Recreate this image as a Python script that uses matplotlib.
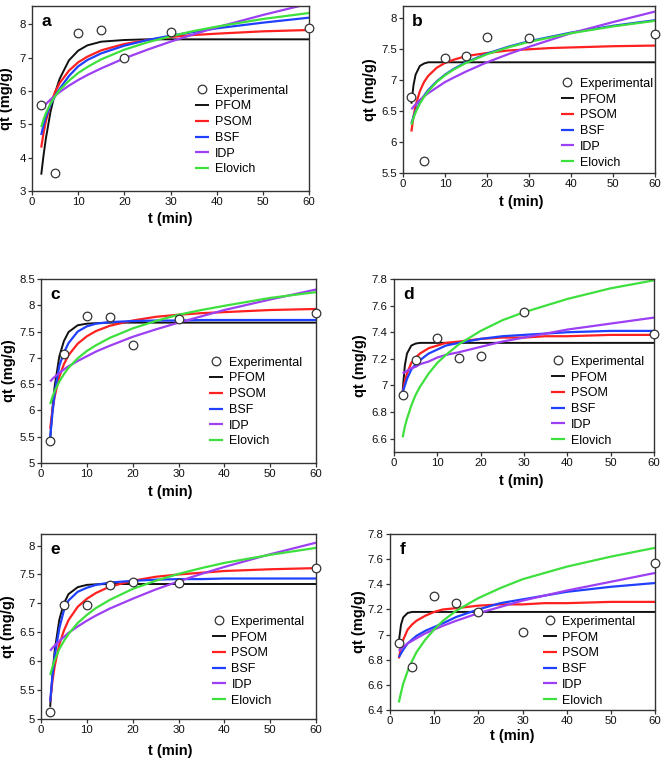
import matplotlib
matplotlib.use("Agg")
import matplotlib.pyplot as plt
from matplotlib.ticker import FuncFormatter

plt.rcParams['font.family'] = ['Liberation Sans', 'DejaVu Sans']

# ---------------- data ----------------
t_exp = [2, 5, 10, 15, 20, 30, 60]
t_fit = [2, 2.5, 3, 4, 5, 6, 8, 10, 12, 15, 20, 25, 30, 35, 40, 50, 60]
model_names = ["PFOM", "PSOM", "BSF", "IDP", "Elovich"]

# panel a
a_exp = [5.57, 3.53, 7.75, 7.83, 6.98, 7.78, 7.88]
a_pfom = [3.49, 4.07, 4.57, 5.37, 5.95, 6.37, 6.92, 7.21, 7.37, 7.48, 7.53, 7.55, 7.55, 7.55, 7.55, 7.55, 7.55]
a_psom = [4.30, 4.74, 5.09, 5.61, 5.97, 6.24, 6.61, 6.86, 7.03, 7.22, 7.41, 7.53, 7.62, 7.68, 7.72, 7.79, 7.83]
a_bsf = [4.68, 4.98, 5.22, 5.58, 5.85, 6.07, 6.45, 6.74, 6.93, 7.13, 7.36, 7.53, 7.66, 7.77, 7.88, 8.05, 8.20]
a_idp = [5.45, 5.53, 5.61, 5.74, 5.86, 5.97, 6.16, 6.33, 6.48, 6.68, 6.98, 7.24, 7.48, 7.70, 7.91, 8.28, 8.62]
a_elov = [4.92, 5.14, 5.33, 5.62, 5.84, 6.03, 6.31, 6.54, 6.72, 6.95, 7.24, 7.46, 7.64, 7.80, 7.93, 8.16, 8.34]

# panel b
b_exp = [6.73, 5.69, 7.355, 7.39, 7.70, 7.69, 7.75]
b_pfom = [6.62, 6.92, 7.09, 7.23, 7.27, 7.29, 7.29, 7.29, 7.29, 7.29, 7.29, 7.29, 7.29, 7.29, 7.29, 7.29, 7.29]
b_psom = [6.17, 6.41, 6.59, 6.82, 6.97, 7.07, 7.20, 7.28, 7.33, 7.39, 7.44, 7.48, 7.50, 7.52, 7.53, 7.55, 7.56]
b_bsf = [6.30, 6.41, 6.50, 6.64, 6.75, 6.84, 6.98, 7.09, 7.18, 7.29, 7.43, 7.54, 7.63, 7.70, 7.77, 7.88, 7.97]
b_idp = [6.53, 6.57, 6.61, 6.68, 6.74, 6.79, 6.88, 6.97, 7.04, 7.14, 7.29, 7.42, 7.54, 7.65, 7.76, 7.94, 8.11]
b_elov = [6.28, 6.39, 6.48, 6.62, 6.73, 6.82, 6.97, 7.08, 7.17, 7.28, 7.42, 7.53, 7.62, 7.69, 7.76, 7.87, 7.96]

# panel c
c_exp = [5.41, 7.08, 7.80, 7.78, 7.24, 7.74, 7.85]
c_pfom = [5.45, 6.04, 6.47, 7.03, 7.32, 7.49, 7.62, 7.65, 7.66, 7.67, 7.67, 7.67, 7.67, 7.67, 7.67, 7.67, 7.67]
c_psom = [5.65, 6.01, 6.27, 6.64, 6.88, 7.05, 7.27, 7.41, 7.51, 7.61, 7.71, 7.78, 7.82, 7.85, 7.87, 7.91, 7.93]
c_bsf = [5.48, 5.95, 6.35, 6.85, 7.10, 7.28, 7.50, 7.60, 7.65, 7.68, 7.70, 7.71, 7.71, 7.72, 7.72, 7.72, 7.72]
c_idp = [6.55, 6.60, 6.64, 6.71, 6.78, 6.84, 6.94, 7.03, 7.12, 7.23, 7.40, 7.54, 7.67, 7.79, 7.91, 8.11, 8.30]
c_elov = [6.12, 6.26, 6.37, 6.55, 6.69, 6.81, 6.99, 7.13, 7.24, 7.38, 7.56, 7.70, 7.82, 7.91, 7.99, 8.14, 8.25]

# panel d
d_exp = [6.93, 7.19, 7.36, 7.21, 7.22, 7.55, 7.385]
d_pfom = [6.96, 7.15, 7.24, 7.30, 7.315, 7.32, 7.32, 7.32, 7.32, 7.32, 7.32, 7.32, 7.32, 7.32, 7.32, 7.32, 7.32]
d_psom = [6.95, 7.03, 7.09, 7.17, 7.21, 7.24, 7.28, 7.30, 7.32, 7.33, 7.35, 7.36, 7.36, 7.37, 7.37, 7.38, 7.38]
d_bsf = [6.95, 7.00, 7.05, 7.12, 7.16, 7.19, 7.24, 7.27, 7.30, 7.32, 7.35, 7.37, 7.38, 7.39, 7.40, 7.41, 7.41]
d_idp = [7.09, 7.10, 7.11, 7.13, 7.14, 7.16, 7.18, 7.21, 7.23, 7.25, 7.29, 7.33, 7.36, 7.39, 7.42, 7.465, 7.51]
d_elov = [6.61, 6.69, 6.75, 6.85, 6.93, 6.99, 7.09, 7.17, 7.23, 7.31, 7.41, 7.49, 7.55, 7.60, 7.65, 7.73, 7.79]

# panel e
e_exp = [5.12, 6.965, 6.97, 7.31, 7.37, 7.35, 7.61]
e_pfom = [5.21, 5.78, 6.19, 6.72, 7.00, 7.16, 7.28, 7.32, 7.33, 7.335, 7.335, 7.335, 7.335, 7.335, 7.335, 7.335, 7.335]
e_psom = [5.30, 5.66, 5.92, 6.29, 6.53, 6.71, 6.94, 7.08, 7.18, 7.29, 7.39, 7.46, 7.50, 7.53, 7.56, 7.59, 7.61]
e_bsf = [5.30, 5.75, 6.10, 6.57, 6.88, 7.05, 7.20, 7.27, 7.32, 7.36, 7.39, 7.41, 7.42, 7.42, 7.43, 7.43, 7.43]
e_idp = [6.18, 6.23, 6.27, 6.35, 6.42, 6.49, 6.60, 6.70, 6.79, 6.91, 7.08, 7.24, 7.38, 7.51, 7.63, 7.85, 8.05]
e_elov = [5.76, 5.90, 6.02, 6.21, 6.35, 6.47, 6.66, 6.80, 6.92, 7.06, 7.25, 7.39, 7.51, 7.61, 7.70, 7.84, 7.96]

# panel f
f_exp = [6.93, 6.74, 7.31, 7.255, 7.18, 7.02, 7.57]
f_pfom = [6.945, 7.08, 7.137, 7.172, 7.18, 7.18, 7.18, 7.18, 7.18, 7.18, 7.18, 7.18, 7.18, 7.18, 7.18, 7.18, 7.18]
f_psom = [6.81, 6.90, 6.96, 7.04, 7.08, 7.11, 7.15, 7.18, 7.20, 7.21, 7.23, 7.24, 7.24, 7.25, 7.25, 7.26, 7.26]
f_bsf = [6.82, 6.85, 6.88, 6.93, 6.96, 6.99, 7.03, 7.06, 7.09, 7.14, 7.20, 7.25, 7.28, 7.31, 7.34, 7.38, 7.41]
f_idp = [6.87, 6.89, 6.90, 6.93, 6.95, 6.97, 7.01, 7.04, 7.07, 7.11, 7.17, 7.22, 7.27, 7.31, 7.35, 7.42, 7.49]
f_elov = [6.46, 6.54, 6.61, 6.71, 6.79, 6.86, 6.96, 7.04, 7.11, 7.19, 7.29, 7.37, 7.44, 7.49, 7.54, 7.62, 7.69]

x_ticks = [0, 10, 20, 30, 40, 50, 60]
a_yticks = [3, 4, 5, 6, 7, 8]
b_yticks = [5.5, 6, 6.5, 7, 7.5, 8]
c_yticks = [5, 5.5, 6, 6.5, 7, 7.5, 8, 8.5]
d_yticks = [6.6, 6.8, 7, 7.2, 7.4, 7.6, 7.8]
e_yticks = [5, 5.5, 6, 6.5, 7, 7.5, 8]
f_yticks = [6.4, 6.6, 6.8, 7, 7.2, 7.4, 7.6, 7.8]

# ---------------- styling / layout ----------------
colors = ["#111111", "#ff2020", "#2040ff", "#9d3ff2", "#3ee03e"]
W, H = 662, 759

panels = [
    # letter, exp, fits, yticks, ylim, axes px box (x0, y0, x1, y1), legend anchor, ylabel x, xlabel (x, y)
    ("a", a_exp, [a_pfom, a_psom, a_bsf, a_idp, a_elov], a_yticks, (3, 8.55),
     (32, 6, 309, 191), (0.59, 0.575), -0.068, (0.498, -0.115)),
    ("b", b_exp, [b_pfom, b_psom, b_bsf, b_idp, b_elov], b_yticks, (5.5, 8.2),
     (403, 6, 655, 173), (0.625, 0.57), -0.104, (0.47, -0.13)),
    ("c", c_exp, [c_pfom, c_psom, c_bsf, c_idp, c_elov], c_yticks, (5, 8.5),
     (41, 279, 316, 463), (0.612, 0.578), -0.09, (0.47, -0.12)),
    ("d", d_exp, [d_pfom, d_psom, d_bsf, d_idp, d_elov], d_yticks, (6.5, 7.8),
     (394, 279, 654, 452), (0.605, 0.556), -0.102, (0.488, -0.125)),
    ("e", e_exp, [e_pfom, e_psom, e_bsf, e_idp, e_elov], e_yticks, (5, 8.2),
     (41, 534, 316, 719), (0.622, 0.558), -0.093, (0.47, -0.135)),
    ("f", f_exp, [f_pfom, f_psom, f_bsf, f_idp, f_elov], f_yticks, (6.4, 7.8),
     (390, 534, 655, 710), (0.577, 0.535), -0.092, (0.463, -0.11)),
]

fig = plt.figure(figsize=(W / 100, H / 100), dpi=100)
fig.patch.set_facecolor("white")

fmt = FuncFormatter(lambda v, p: f"{v:g}")

for letter, exp, fits, yticks, ylim, box, leg_anchor, ylx, xl in panels:
    x0, y0, x1, y1 = box
    ax = fig.add_axes([x0 / W, 1 - y1 / H, (x1 - x0) / W, (y1 - y0) / H])
    for name, vals, col in zip(model_names, fits, colors):
        lw = 1.4 if name == "PFOM" else 1.6
        ax.plot(t_fit, vals, color=col, lw=lw, label=name, solid_capstyle="butt", zorder=2)
    ax.plot(t_exp, exp, linestyle="none", marker="o", markersize=6.2,
            markerfacecolor="white", markeredgecolor="#333333", markeredgewidth=0.9,
            label="Experimental", zorder=5, clip_on=False)
    ax.set_xlim(0, 60)
    ax.set_ylim(*ylim)
    ax.set_xticks(x_ticks)
    ax.set_yticks(yticks)
    ax.yaxis.set_major_formatter(fmt)
    for s in ax.spines.values():
        s.set_color("#333333")
        s.set_linewidth(1.0)
    ax.tick_params(direction="out", length=3, width=0.9, color="#333333",
                   labelsize=8.2, pad=1.5, labelcolor="#111111")
    ax.set_xlabel("t (min)", fontsize=10.5, fontweight="bold")
    ax.set_ylabel("qt (mg/g)", fontsize=10.5, fontweight="bold")
    ax.yaxis.set_label_coords(ylx, 0.5)
    ax.xaxis.set_label_coords(xl[0], xl[1])
    ax.text(0.035, 0.955, letter, transform=ax.transAxes, fontsize=12.5,
            fontweight="bold", ha="left", va="top")
    handles, labels = ax.get_legend_handles_labels()
    order = [5, 0, 1, 2, 3, 4]
    ax.legend([handles[i] for i in order], [labels[i] for i in order],
              loc="upper left", bbox_to_anchor=leg_anchor, frameon=False,
              fontsize=9, handlelength=1.1, handletextpad=0.45,
              labelspacing=0.3, borderpad=0, borderaxespad=0)

fig.savefig("out.png", dpi=100, facecolor="white")
